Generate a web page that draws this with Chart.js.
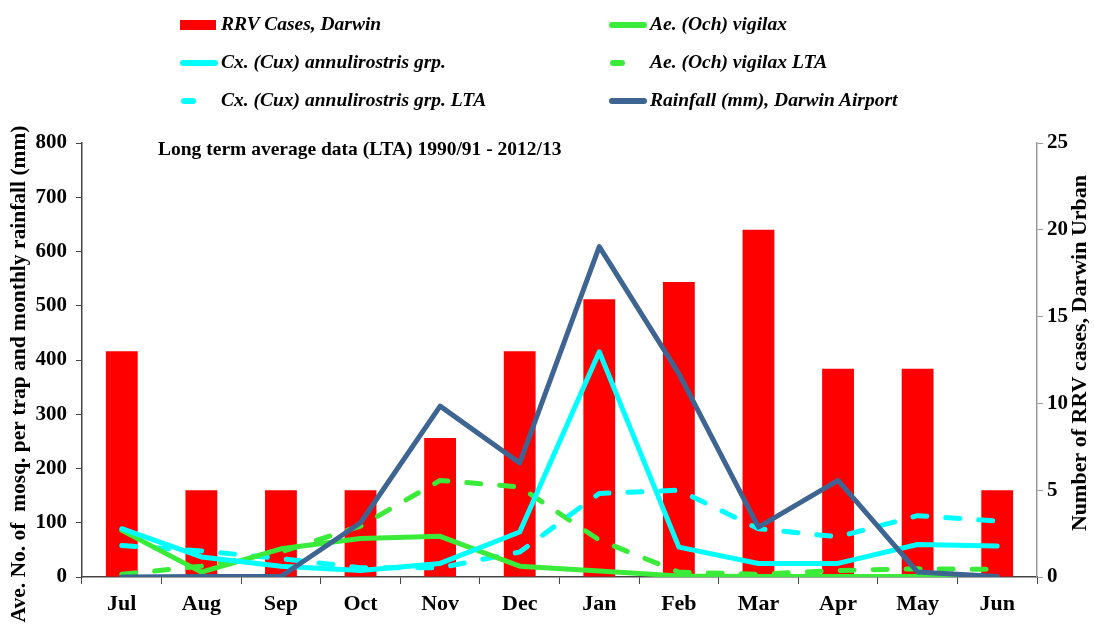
<!DOCTYPE html>
<html>
<head>
<meta charset="utf-8">
<script src="https://cdn.jsdelivr.net/npm/chart.js@4"></script>
<style>
  body { margin: 0; background: #fff; }
  #wrap { position: relative; width: 1094px; height: 626px; }
  .leg { position: absolute; font-family: "Liberation Serif", serif; font-style: italic; font-weight: bold; font-size: 19.5px; color: #000; white-space: nowrap; }
  .sw { position: absolute; }
</style>
</head>
<body>
<div id="wrap">
  <canvas id="myChart" width="1094" height="626"></canvas>
  <div id="legend"></div>
</div>
<script>
const months = ["Jul", "Aug", "Sep", "Oct", "Nov", "Dec", "Jan", "Feb", "Mar", "Apr", "May", "Jun"];

const rrvCases = [13, 5, 5, 5, 8, 13, 16, 17, 20, 12, 12, 5];
const cxAnnulirostris = [89, 37, 20, 12, 25, 83, 415, 55, 25, 25, 60, 57];
const cxAnnulirostrisLTA = [58, 48, 34, 17, 17, 46, 154, 160, 89, 74, 113, 103];
const aeVigilax = [86, 9, 52, 71, 75, 20, 11, 2, 1, 1, 1, 0];
const aeVigilaxLTA = [5, 20, 46, 94, 178, 166, 68, 9, 5, 12, 15, 14];
const rainfall = [0, 1, 1, 100, 315, 210, 609, 375, 92, 178, 9, 1];

const leftTicks = [0, 100, 200, 300, 400, 500, 600, 700, 800];
const rightTicks = [0, 5, 10, 15, 20, 25];

const serif = "'Liberation Serif', 'Times New Roman', serif";

const datasets = [
  {
    type: "bar",
    label: "RRV Cases, Darwin",
    data: rrvCases,
    yAxisID: "y1",
    backgroundColor: "#FF0000",
    barPercentage: 0.4,
    categoryPercentage: 1,
    order: 10,
  },
  {
    type: "line",
    label: "Cx. (Cux) annulirostris grp.",
    data: cxAnnulirostris,
    yAxisID: "y",
    borderColor: "#00FFFF",
    order: 3,
  },
  {
    type: "line",
    label: "Cx. (Cux) annulirostris grp. LTA",
    data: cxAnnulirostrisLTA,
    yAxisID: "y",
    borderColor: "#00FFFF",
    borderDash: [14, 19],
    order: 5,
  },
  {
    type: "line",
    label: "Ae. (Och) vigilax",
    data: aeVigilax,
    yAxisID: "y",
    borderColor: "#3AEB3A",
    order: 4,
  },
  {
    type: "line",
    label: "Ae. (Och) vigilax LTA",
    data: aeVigilaxLTA,
    yAxisID: "y",
    borderColor: "#3AEB3A",
    borderDash: [14, 19],
    order: 6,
  },
  {
    type: "line",
    label: "Rainfall (mm), Darwin Airport",
    data: rainfall,
    yAxisID: "y",
    borderColor: "#3E6492",
    order: 1,
  },
];

datasets.forEach((d) => {
  if (d.type === "line") {
    d.borderWidth = 5;
    d.pointRadius = 0;
    d.tension = 0;
    d.borderCapStyle = "round";
    d.borderJoinStyle = "round";
  }
});

// legend in two columns, as in the original
const legendSpots = [
  [180, 25], [180, 63], [180, 101],
  [609, 25], [609, 63], [609, 101],
];
const legendEl = document.getElementById("legend");
datasets.forEach((ds, i) => {
  const [x, y] = legendSpots[i];
  const sw = document.createElement("div");
  sw.className = "sw";
  if (ds.type === "bar") {
    Object.assign(sw.style, { left: x + "px", top: y - 5 + "px", width: "36px", height: "10px", background: ds.backgroundColor });
  } else if (ds.borderDash) {
    Object.assign(sw.style, { left: x + 1 + "px", top: y - 3 + "px", width: "15px", height: "6px", borderRadius: "3px", background: ds.borderColor });
  } else {
    Object.assign(sw.style, { left: x + "px", top: y - 3 + "px", width: "38px", height: "6px", borderRadius: "3px", background: ds.borderColor });
  }
  legendEl.appendChild(sw);
  const t = document.createElement("div");
  t.className = "leg";
  t.textContent = ds.label;
  t.style.left = x + 41 + "px";
  t.style.top = y - 12 + "px";
  legendEl.appendChild(t);
});

// subtitle and both axis titles (both read bottom to top)
const textPlugin = {
  id: "extraText",
  afterDraw(chart) {
    const ctx = chart.ctx;
    ctx.save();
    ctx.fillStyle = "#000";
    ctx.textBaseline = "middle";
    ctx.font = "bold 19.5px " + serif;
    ctx.fillText("Long term average data (LTA) 1990/91 - 2012/13", 158, 150);

    ctx.textAlign = "center";
    ctx.font = "bold 21.5px " + serif;
    ctx.translate(19, 374);
    ctx.rotate(-Math.PI / 2);
    ctx.fillText("Ave. No. of  mosq. per trap and monthly rainfall (mm)", 0, 0);
    ctx.restore();

    ctx.save();
    ctx.fillStyle = "#000";
    ctx.textBaseline = "middle";
    ctx.textAlign = "center";
    ctx.font = "bold 22px " + serif;
    ctx.translate(1080, 353);
    ctx.rotate(-Math.PI / 2);
    ctx.fillText("Number of RRV cases, Darwin Urban", 0, 0);
    ctx.restore();
  },
};

const config = {
  data: { labels: months, datasets: datasets },
  options: {
    responsive: false,
    animation: false,
    layout: { padding: { top: 143, left: 0, right: 0, bottom: 0 } },
    plugins: {
      legend: { display: false },
      tooltip: { enabled: false },
    },
    scales: {
      x: {
        offset: true,
        afterFit: (s) => { s.height = 49; },
        border: { color: "#444", width: 1.5 },
        grid: { offset: true, drawOnChartArea: false, color: "#444", tickLength: 7 },
        ticks: { color: "#000", padding: 7, font: { family: serif, size: 22, weight: "bold" } },
      },
      y: {
        position: "left",
        min: 0,
        max: 800,
        afterFit: (s) => { s.width = 82; },
        afterBuildTicks: (s) => { s.ticks = leftTicks.map((v) => ({ value: v })); },
        border: { color: "#444", width: 1.5 },
        grid: { drawOnChartArea: false, color: "#444", tickLength: 6 },
        ticks: { color: "#000", padding: 9, font: { family: serif, size: 21, weight: "bold" } },
      },
      y1: {
        position: "right",
        min: 0,
        max: 25,
        afterFit: (s) => { s.width = 57; },
        afterBuildTicks: (s) => { s.ticks = rightTicks.map((v) => ({ value: v })); },
        border: { color: "#999", width: 1.5 },
        grid: { drawOnChartArea: false, color: "#999", tickLength: 6 },
        ticks: { color: "#000", padding: 4, font: { family: serif, size: 21, weight: "bold" } },
      },
    },
  },
  plugins: [textPlugin],
};

const myChart = new Chart(document.getElementById("myChart"), config);
</script>
</body>
</html>
